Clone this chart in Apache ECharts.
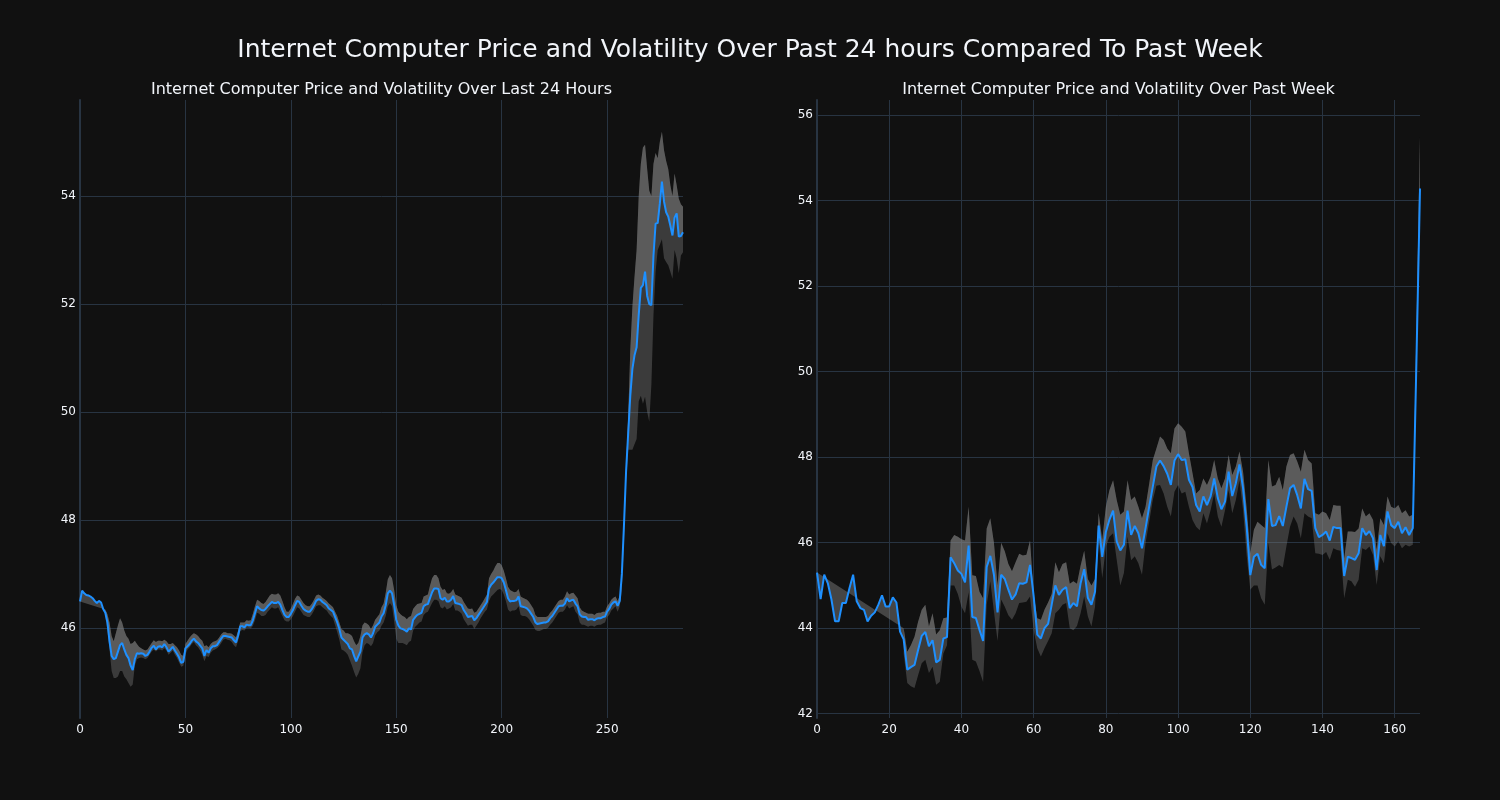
<!DOCTYPE html>
<html><head><meta charset="utf-8">
<script src="https://cdn.jsdelivr.net/npm/echarts@6/dist/echarts.min.js"></script>
<style>html,body{margin:0;padding:0;background:#111111}#c{width:1500px;height:800px}</style>
</head><body><div id="c"></div>
<script>
// ---------- DATA ----------
const mainTitle = 'Internet Computer Price and Volatility Over Past 24 hours Compared To Past Week';
const leftTitle = 'Internet Computer Price and Volatility Over Last 24 Hours';
const rightTitle = 'Internet Computer Price and Volatility Over Past Week';

const leftXTicks = [0, 50, 100, 150, 200, 250];
const leftYTicks = [46, 48, 50, 52, 54];
const rightXTicks = [0, 20, 40, 60, 80, 100, 120, 140, 160];
const rightYTicks = [42, 44, 46, 48, 50, 52, 54, 56];

const leftPrice = [
46.49,46.69,46.64,46.61,46.6,46.58,46.55,46.5,46.46,46.5,
46.47,46.35,46.28,46.1,45.75,45.48,45.42,45.44,45.56,45.68,
45.72,45.6,45.5,45.44,45.3,45.22,45.42,45.53,45.52,45.53,
45.52,45.48,45.5,45.56,45.63,45.67,45.6,45.65,45.66,45.64,
45.7,45.64,45.56,45.6,45.65,45.58,45.52,45.45,45.35,45.37,
45.62,45.66,45.7,45.76,45.8,45.75,45.72,45.67,45.62,45.48,
45.59,45.54,45.62,45.66,45.66,45.68,45.74,45.8,45.85,45.85,
45.84,45.83,45.82,45.77,45.73,45.86,46.03,46.03,46.01,46.06,
46.05,46.05,46.14,46.27,46.4,46.36,46.33,46.32,46.35,46.4,
46.44,46.48,46.46,46.46,46.48,46.43,46.33,46.24,46.2,46.2,
46.26,46.33,46.42,46.5,46.48,46.41,46.35,46.32,46.3,46.3,
46.35,46.42,46.5,46.53,46.52,46.48,46.45,46.42,46.36,46.33,
46.3,46.2,46.1,45.98,45.82,45.78,45.74,45.7,45.62,45.6,
45.48,45.38,45.47,45.56,45.82,45.88,45.9,45.88,45.82,45.9,
46.02,46.06,46.1,46.21,46.27,46.42,46.64,46.69,46.64,46.42,
46.15,46.04,45.99,45.98,45.96,45.93,45.99,45.97,46.15,46.2,
46.24,46.26,46.28,46.4,46.43,46.44,46.55,46.66,46.73,46.73,
46.72,46.55,46.52,46.56,46.49,46.49,46.52,46.59,46.46,46.45,
46.44,46.42,46.33,46.27,46.2,46.21,46.22,46.14,46.18,46.24,
46.3,46.36,46.42,46.48,46.73,46.8,46.84,46.89,46.94,46.94,
46.92,46.84,46.7,46.55,46.49,46.5,46.5,46.51,46.58,46.4,
46.39,46.38,46.36,46.32,46.26,46.2,46.1,46.07,46.08,46.09,
46.1,46.1,46.12,46.18,46.22,46.28,46.34,46.4,46.41,46.41,
46.45,46.55,46.49,46.51,46.52,46.45,46.4,46.25,46.21,46.2,
46.2,46.15,46.16,46.16,46.14,46.17,46.18,46.18,46.2,46.21,
46.3,46.35,46.43,46.47,46.49,46.41,46.5,47.0,47.9,48.9,
49.6,50.3,50.8,51.05,51.2,51.8,52.3,52.35,52.6,52.15,
52.0,51.98,52.9,53.49,53.5,53.86,54.27,53.9,53.7,53.62,
53.45,53.27,53.6,53.68,53.25,53.26,53.33
];

const leftUpper = [
null,null,null,null,null,null,null,null,null,null,
null,null,46.34,46.25,46.1,45.85,45.75,45.9,46.05,46.18,
46.1,45.95,45.85,45.8,45.7,45.72,45.76,45.7,45.65,45.62,
45.6,45.58,45.6,45.66,45.72,45.77,45.74,45.76,45.76,45.75,
45.78,45.75,45.7,45.7,45.72,45.68,45.64,45.58,45.5,45.48,
45.7,45.76,45.82,45.87,45.9,45.88,45.85,45.8,45.76,45.66,
45.68,45.64,45.7,45.74,45.75,45.77,45.82,45.88,45.92,45.92,
45.9,45.9,45.89,45.86,45.82,45.95,46.1,46.1,46.1,46.14,
46.13,46.14,46.26,46.4,46.52,46.5,46.46,46.44,46.48,46.54,
46.6,46.63,46.62,46.62,46.64,46.6,46.5,46.38,46.3,46.3,
46.36,46.44,46.54,46.6,46.58,46.52,46.46,46.42,46.4,46.4,
46.45,46.52,46.6,46.62,46.6,46.56,46.53,46.5,46.45,46.42,
46.38,46.3,46.22,46.1,45.98,45.95,45.9,45.9,45.88,45.85,
45.75,45.68,45.72,45.85,46.05,46.1,46.08,46.05,45.98,46.05,
46.15,46.2,46.25,46.38,46.45,46.65,46.9,46.98,46.92,46.7,
46.42,46.3,46.25,46.22,46.2,46.16,46.2,46.22,46.35,46.4,
46.44,46.45,46.46,46.58,46.6,46.62,46.78,46.92,46.98,46.98,
46.92,46.76,46.7,46.72,46.64,46.63,46.66,46.72,46.62,46.6,
46.58,46.56,46.48,46.42,46.36,46.35,46.36,46.28,46.3,46.36,
46.42,46.48,46.55,46.62,46.92,47.0,47.06,47.14,47.2,47.2,
47.16,47.06,46.92,46.76,46.7,46.68,46.66,46.67,46.72,46.58,
46.56,46.54,46.52,46.48,46.42,46.36,46.24,46.2,46.2,46.2,
46.2,46.2,46.22,46.28,46.32,46.38,46.44,46.5,46.52,46.52,
46.58,46.68,46.62,46.64,46.65,46.6,46.55,46.38,46.32,46.3,
46.28,46.26,46.26,46.26,46.24,46.27,46.28,46.28,46.3,46.3,
46.4,46.45,46.52,46.56,46.58,46.5,46.6,46.95,47.95,49.0,
49.9,51.15,51.95,52.5,53.0,54.0,54.6,54.9,54.95,54.5,
54.1,54.0,54.6,54.8,54.7,55.0,55.19,54.85,54.65,54.5,
54.2,54.0,54.42,54.2,53.95,53.85,53.8
];

const leftLower = [
null,null,null,null,null,null,null,null,null,null,
null,null,46.22,45.95,45.6,45.2,45.07,45.07,45.1,45.2,
45.2,45.1,45.05,44.98,44.91,44.95,45.3,45.42,45.44,45.45,
45.44,45.42,45.44,45.5,45.56,45.6,45.56,45.6,45.6,45.58,
45.62,45.58,45.5,45.54,45.58,45.5,45.44,45.36,45.28,45.3,
45.5,45.6,45.64,45.7,45.74,45.68,45.64,45.58,45.5,45.38,
45.48,45.46,45.54,45.58,45.6,45.62,45.66,45.72,45.78,45.8,
45.78,45.77,45.74,45.68,45.64,45.76,45.94,45.96,45.95,46.0,
46.0,45.99,46.04,46.14,46.28,46.26,46.22,46.22,46.24,46.3,
46.34,46.38,46.36,46.36,46.38,46.3,46.22,46.14,46.12,46.12,
46.16,46.22,46.3,46.38,46.36,46.3,46.24,46.22,46.2,46.2,
46.25,46.32,46.4,46.42,46.42,46.38,46.35,46.32,46.26,46.22,
46.18,46.05,45.92,45.78,45.6,45.58,45.55,45.5,45.4,45.3,
45.18,45.08,45.15,45.25,45.55,45.68,45.72,45.7,45.66,45.72,
45.86,45.92,45.95,46.04,46.1,46.22,46.4,46.46,46.4,46.12,
45.8,45.72,45.72,45.72,45.7,45.68,45.74,45.76,45.95,46.02,
46.06,46.1,46.12,46.24,46.28,46.3,46.38,46.46,46.52,46.52,
46.5,46.38,46.36,46.4,46.34,46.36,46.38,46.44,46.32,46.32,
46.3,46.26,46.16,46.1,46.04,46.06,46.06,45.98,46.04,46.1,
46.18,46.24,46.3,46.34,46.5,46.58,46.62,46.66,46.7,46.72,
46.7,46.62,46.5,46.34,46.3,46.32,46.32,46.34,46.4,46.24,
46.22,46.22,46.2,46.16,46.1,46.04,45.96,45.94,45.94,45.96,
45.98,45.98,46.0,46.06,46.1,46.16,46.22,46.28,46.3,46.3,
46.34,46.42,46.36,46.38,46.4,46.3,46.25,46.1,46.06,46.06,
46.04,46.02,46.04,46.04,46.02,46.05,46.06,46.06,46.08,46.1,
46.2,46.24,46.32,46.36,46.4,46.3,46.4,46.7,47.6,48.7,
49.3,49.3,49.3,49.4,49.5,50.2,50.3,50.15,50.28,50.0,
49.82,50.5,51.8,52.6,53.0,53.1,53.2,52.85,52.78,52.72,
52.6,52.47,53.0,52.85,52.57,52.9,52.96
];

const rightPrice = [
45.3,44.68,45.25,45.05,44.67,44.16,44.16,44.59,44.59,44.94,
45.25,44.63,44.47,44.43,44.16,44.29,44.37,44.55,44.77,44.51,
44.51,44.72,44.6,43.92,43.74,43.03,43.09,43.14,43.49,43.82,
43.91,43.58,43.72,43.2,43.26,43.76,43.79,45.66,45.52,45.35,
45.27,45.07,45.93,44.26,44.24,43.96,43.7,45.43,45.69,45.25,
44.37,45.25,45.15,44.9,44.67,44.79,45.05,45.04,45.07,45.48,
44.75,43.85,43.76,44.0,44.1,44.55,45.0,44.78,44.9,44.96,
44.47,44.59,44.51,45.05,45.38,44.71,44.55,44.85,46.4,45.67,
46.25,46.54,46.75,46.03,45.82,45.95,46.75,46.18,46.39,46.22,
45.87,46.34,46.84,47.31,47.78,47.92,47.79,47.61,47.35,47.92,
48.07,47.93,47.95,47.47,47.3,46.88,46.73,47.08,46.88,47.08,
47.5,47.04,46.78,46.96,47.66,47.09,47.39,47.83,47.27,46.37,
45.24,45.67,45.74,45.48,45.4,47.02,46.39,46.41,46.62,46.39,
46.84,47.27,47.35,47.11,46.8,47.49,47.25,47.21,46.34,46.13,
46.18,46.26,46.05,46.37,46.34,46.34,45.22,45.67,45.64,45.6,
45.75,46.34,46.18,46.27,46.1,45.36,46.18,45.92,46.73,46.41,
46.34,46.49,46.22,46.36,46.18,46.34,50.2,54.28
];

const rightUpper = [
null,null,null,null,null,null,null,null,null,null,
null,null,null,null,null,null,null,null,null,null,
null,null,null,null,44.0,43.45,43.6,43.8,44.15,44.43,
44.55,44.04,44.35,43.85,43.95,44.23,44.25,46.05,46.18,46.14,
46.08,46.05,46.84,45.24,45.22,44.85,44.7,46.33,46.57,46.0,
45.0,46.0,45.8,45.5,45.33,45.54,45.74,45.7,45.72,46.05,
44.8,44.23,44.2,44.43,44.6,44.8,45.54,45.31,45.5,45.54,
45.04,45.1,45.04,45.46,45.81,45.15,45.0,45.15,46.7,46.06,
46.84,47.23,47.46,47.0,46.65,46.73,47.46,47.0,47.08,46.84,
46.57,46.84,47.38,47.93,48.2,48.48,48.4,48.2,48.09,48.67,
48.79,48.71,48.6,48.09,47.62,47.15,47.23,47.5,47.35,47.54,
47.93,47.5,47.27,47.5,48.05,47.58,47.78,48.13,47.66,46.8,
45.75,46.3,46.49,46.41,46.34,47.93,47.31,47.35,47.54,47.23,
47.78,48.05,48.09,47.9,47.66,48.17,47.93,47.85,46.69,46.65,
46.73,46.69,46.53,46.88,46.86,46.86,45.63,46.26,46.26,46.25,
46.33,46.8,46.61,46.69,46.53,45.83,46.57,46.41,47.08,46.84,
46.8,46.88,46.69,46.76,46.61,46.65,50.9,55.49
];

const rightLower = [
null,null,null,null,null,null,null,null,null,null,
null,null,null,null,null,null,null,null,null,null,
null,null,null,null,43.4,42.72,42.64,42.6,42.9,43.18,
43.26,42.95,43.1,42.68,42.75,43.41,43.6,45.0,45.0,44.8,
44.5,44.35,44.84,43.26,43.22,43.0,42.74,44.55,45.1,44.39,
43.7,44.67,44.5,44.3,44.2,44.35,44.59,44.6,44.62,44.74,
43.95,43.53,43.34,43.53,43.7,43.88,44.35,44.43,44.55,44.59,
44.0,43.95,44.05,44.35,44.74,44.28,44.04,44.5,46.06,45.17,
45.91,46.14,46.22,45.6,45.0,45.29,46.14,45.59,45.68,45.52,
45.25,45.99,46.49,47.0,47.33,47.35,47.15,46.84,46.61,47.19,
47.35,47.15,47.19,46.84,46.53,46.37,46.29,46.69,46.45,46.76,
47.15,46.61,46.37,46.76,47.23,46.69,47.0,47.46,46.76,45.7,
44.9,45.0,45.0,44.7,44.55,46.0,45.37,45.42,45.48,45.42,
45.91,46.37,46.61,46.45,46.1,46.69,46.61,46.57,45.75,45.74,
45.71,45.78,45.6,45.87,45.83,45.81,44.7,45.13,45.1,44.97,
45.13,45.87,45.83,45.91,45.71,45.01,45.68,45.52,46.22,45.99,
45.91,46.03,45.87,45.95,45.91,45.95,49.9,54.9
];

// ---------- STYLE ----------
const FONT = 'DejaVu Sans';
const TXT = '#f2f5fa';
const GRID = '#283442';
const LINE = '#1e90ff';

function bandRender(price, upper, lower) {
  return function (params, api) {
    const a = [], b = [];
    for (let i = 0; i < price.length; i++) a.push(api.coord([i, price[i]]));
    for (let i = upper.length - 1; i >= 0; i--) if (upper[i] != null) a.push(api.coord([i, upper[i]]));
    for (let i = 0; i < lower.length; i++) if (lower[i] != null) b.push(api.coord([i, lower[i]]));
    for (let i = upper.length - 1; i >= 0; i--) if (upper[i] != null) b.push(api.coord([i, upper[i]]));
    return {
      type: 'group',
      children: [
        { type: 'polygon', shape: { points: a }, style: { fill: 'rgba(128,128,128,0.48)' } },
        { type: 'polygon', shape: { points: b }, style: { fill: 'rgba(128,128,128,0.38)' } }
      ]
    };
  };
}

function xAxis(gi, max, ticks) {
  return {
    type: 'value', gridIndex: gi, min: 0, max: max,
    axisLine: { show: false },
    axisTick: { show: false, customValues: ticks },
    axisLabel: { customValues: ticks, color: TXT, fontSize: 12, fontFamily: FONT, margin: 6 },
    splitLine: { show: true, lineStyle: { color: GRID, width: 1 } }
  };
}
function yAxis(gi, min, max, ticks) {
  return {
    type: 'value', gridIndex: gi, min: min, max: max,
    axisLine: { show: true, onZero: false, lineStyle: { color: GRID, width: 2 } },
    axisTick: { show: false, customValues: ticks },
    axisLabel: { customValues: ticks, color: TXT, fontSize: 12, fontFamily: FONT, margin: 4 },
    splitLine: { show: true, lineStyle: { color: GRID, width: 1 } }
  };
}

const chart = echarts.init(document.getElementById('c'), null, { renderer: 'canvas' });
chart.setOption({
  backgroundColor: '#111111',
  animation: false,
  grid: [
    { left: 80, top: 100, width: 603, height: 618 },
    { left: 817, top: 100, width: 603, height: 618 }
  ],
  xAxis: [xAxis(0, leftPrice.length - 1, leftXTicks), xAxis(1, rightPrice.length - 1, rightXTicks)],
  yAxis: [yAxis(0, 44.33, 55.78, leftYTicks), yAxis(1, 41.9, 56.35, rightYTicks)],
  graphic: [
    { type: 'text', x: 750, y: 50, style: { text: mainTitle, fill: TXT, font: '25px "DejaVu Sans"', textAlign: 'center', textVerticalAlign: 'middle' } },
    { type: 'text', x: 381.5, y: 89.5, style: { text: leftTitle, fill: TXT, font: '16px "DejaVu Sans"', textAlign: 'center', textVerticalAlign: 'middle' } },
    { type: 'text', x: 1118.5, y: 89.5, style: { text: rightTitle, fill: TXT, font: '16px "DejaVu Sans"', textAlign: 'center', textVerticalAlign: 'middle' } }
  ],
  series: [
    { type: 'custom', xAxisIndex: 0, yAxisIndex: 0, z: 1, silent: true,
      data: [[0, leftPrice[0]]], renderItem: bandRender(leftPrice, leftUpper, leftLower) },
    { type: 'line', xAxisIndex: 0, yAxisIndex: 0, z: 3, showSymbol: false, symbol: 'none',
      lineStyle: { color: LINE, width: 2 }, data: leftPrice.map((v, i) => [i, v]) },
    { type: 'custom', xAxisIndex: 1, yAxisIndex: 1, z: 1, silent: true,
      data: [[0, rightPrice[0]]], renderItem: bandRender(rightPrice, rightUpper, rightLower) },
    { type: 'line', xAxisIndex: 1, yAxisIndex: 1, z: 3, showSymbol: false, symbol: 'none',
      lineStyle: { color: LINE, width: 2 }, data: rightPrice.map((v, i) => [i, v]) }
  ]
});
</script>
</body></html>
